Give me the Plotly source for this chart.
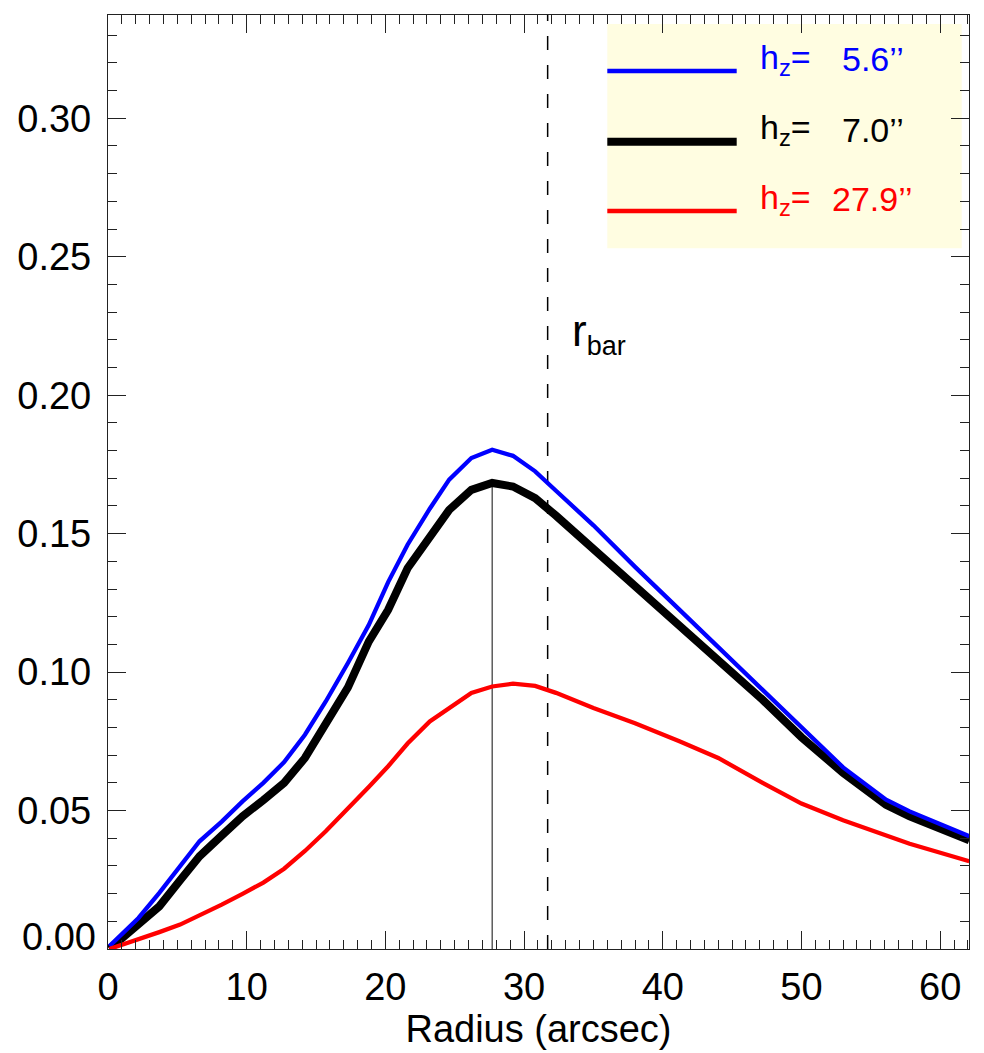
import plotly.graph_objects as go

# ---------------- data ----------------
radius = [0.1, 2.2, 3.7, 5.2, 6.6, 8.2, 9.7, 11.2, 12.7, 14.2, 15.7, 17.3, 18.8,
          20.2, 21.6, 23.2, 24.6, 26.2, 27.7, 29.2, 30.8, 32.3, 35.0, 38.0, 41.2,
          44.0, 47.2, 50.0, 53.0, 56.1, 57.8, 62.1]

amp_hz56 = [0.001, 0.0112, 0.0203, 0.030, 0.0389, 0.046, 0.0533, 0.060, 0.0675,
            0.0774, 0.0894, 0.1033, 0.117, 0.1325, 0.146, 0.159, 0.1695, 0.1773,
            0.1803, 0.1781, 0.1725, 0.1655, 0.153, 0.138, 0.1226, 0.109, 0.0936,
            0.080, 0.0656, 0.0539, 0.0497, 0.0407]

amp_hz70 = [0.0, 0.0094, 0.0154, 0.0248, 0.0335, 0.041, 0.0479, 0.0538, 0.0600,
            0.069, 0.081, 0.0945, 0.111, 0.1225, 0.1375, 0.149, 0.1586, 0.1658,
            0.1683, 0.167, 0.1628, 0.1565, 0.1445, 0.1305, 0.1165, 0.104, 0.090,
            0.0765, 0.0636, 0.0521, 0.0479, 0.0393]

amp_hz279 = [0.0, 0.0034, 0.0061, 0.0088, 0.0121, 0.016, 0.0199, 0.024, 0.029,
             0.0354, 0.0425, 0.0505, 0.0585, 0.066, 0.0742, 0.0822, 0.0872, 0.0925,
             0.0948, 0.0958, 0.0950, 0.0925, 0.087, 0.0815, 0.075, 0.069, 0.060,
             0.0525, 0.0465, 0.041, 0.038, 0.0317]

hz_values = ["5.6", "7.0", "27.9"]
r_bar = 31.7

x_range = [0, 62.08]
y_range = [0, 0.3373]
x_ticks = [0, 10, 20, 30, 40, 50, 60]
y_ticks = [0.05, 0.10, 0.15, 0.20, 0.25, 0.30]
y_tick_labels = ["0.05", "0.10", "0.15", "0.20", "0.25", "0.30"]
y_zero_label = "0.00"

# ---------------- figure ----------------
W, H = 984, 1053
ML, MR, MT, MB = 108, 15, 15, 104
PW, PH = W - ML - MR, H - MT - MB
FONT = "Liberation Sans, Arial, Helvetica, sans-serif"
AXC = "#222222"


def px_x(p):
    return (p - ML) / PW


def px_y(p):
    return (H - MB - p) / PH


fig = go.Figure()

# peak of the h_z=7.0 profile
i_peak = max(range(len(amp_hz70)), key=lambda i: amp_hz70[i])
r_peak = radius[i_peak]

fig.add_trace(go.Scatter(x=[r_peak, r_peak], y=[0, amp_hz70[i_peak]], mode="lines",
                         line=dict(color="#333333", width=1.2), showlegend=False,
                         hoverinfo="skip"))
fig.add_trace(go.Scatter(x=[r_bar, r_bar], y=y_range, mode="lines",
                         line=dict(color="black", width=1.5, dash="14px,15px"),
                         showlegend=False, hoverinfo="skip"))

colors = ["#0000FF", "#000000", "#FF0000"]
widths = [4.3, 8, 4.3]
series = [amp_hz56, amp_hz70, amp_hz279]
for idx in [1, 0, 2]:
    fig.add_trace(go.Scatter(x=radius, y=series[idx], mode="lines",
                             name="h<sub>z</sub>= " + hz_values[idx] + "’’",
                             line=dict(color=colors[idx], width=widths[idx]),
                             showlegend=False))

# manual legend box
shapes = [dict(type="rect", xref="paper", yref="paper",
               x0=px_x(607.3), x1=px_x(961.7), y0=px_y(248.3), y1=px_y(24),
               fillcolor="#FFFDE1", line=dict(width=0), layer="below")]
leg_y = [71, 141.7, 211]
num_x = [840, 840, 830]
annotations = []
for k in range(3):
    shapes.append(dict(type="line", xref="paper", yref="paper",
                       x0=px_x(607.3), x1=px_x(736.7), y0=px_y(leg_y[k]), y1=px_y(leg_y[k]),
                       line=dict(color=colors[k], width=widths[k])))
    annotations.append(dict(xref="paper", yref="paper", x=px_x(758), y=px_y(leg_y[k] - 12),
                            xanchor="left", yanchor="middle", showarrow=False,
                            text="h<sub>z</sub>=",
                            font=dict(family=FONT, size=34, color=colors[k])))
    annotations.append(dict(xref="paper", yref="paper", x=px_x(num_x[k]), y=px_y(leg_y[k] - 12),
                            xanchor="left", yanchor="middle", showarrow=False,
                            text=hz_values[k] + "’’",
                            font=dict(family=FONT, size=34, color=colors[k])))

# r_bar label
annotations.append(dict(xref="paper", yref="paper", x=px_x(570), y=px_y(333),
                        xanchor="left", yanchor="middle", showarrow=False,
                        text="r<sub><span style='font-size:27px'>bar</span></sub>",
                        font=dict(family=FONT, size=44, color="black")))
# 0.00 label, lifted slightly above the axis as in the reference
annotations.append(dict(xref="paper", yref="y", x=0, y=0, xanchor="right", yanchor="middle",
                        xshift=-10, yshift=12, showarrow=False, text=y_zero_label,
                        font=dict(family=FONT, size=38, color="black")))

axis_common = dict(showline=True, linecolor=AXC, linewidth=1.3, mirror="allticks",
                   ticks="inside", ticklen=18, tickwidth=1.3, tickcolor=AXC,
                   showgrid=False, zeroline=False,
                   tickfont=dict(family=FONT, size=38, color="black"))

fig.update_layout(
    width=W, height=H,
    margin=dict(l=ML, r=MR, t=MT, b=MB, pad=0),
    paper_bgcolor="white", plot_bgcolor="white",
    font=dict(family=FONT, color="black"),
    shapes=shapes, annotations=annotations,
    xaxis=dict(range=x_range, tickmode="array", tickvals=x_ticks,
               minor=dict(tickmode="linear", tick0=0, dtick=1, ticks="inside",
                          ticklen=9, tickwidth=1.1, tickcolor=AXC),
               title=dict(text="Radius (arcsec)", font=dict(family=FONT, size=38),
                          standoff=1),
               ticklabelstandoff=4,
               **axis_common),
    yaxis=dict(range=y_range, tickmode="array", tickvals=y_ticks, ticktext=y_tick_labels,
               minor=dict(tickmode="linear", tick0=0, dtick=0.01, ticks="inside",
                          ticklen=9, tickwidth=1.1, tickcolor=AXC),
               ticklabelstandoff=8,
               **axis_common),
    showlegend=False,
)

fig.write_html("out.html", config={"displayModeBar": False},
               post_script="document.body.style.margin='0px';document.body.style.overflow='hidden';")
